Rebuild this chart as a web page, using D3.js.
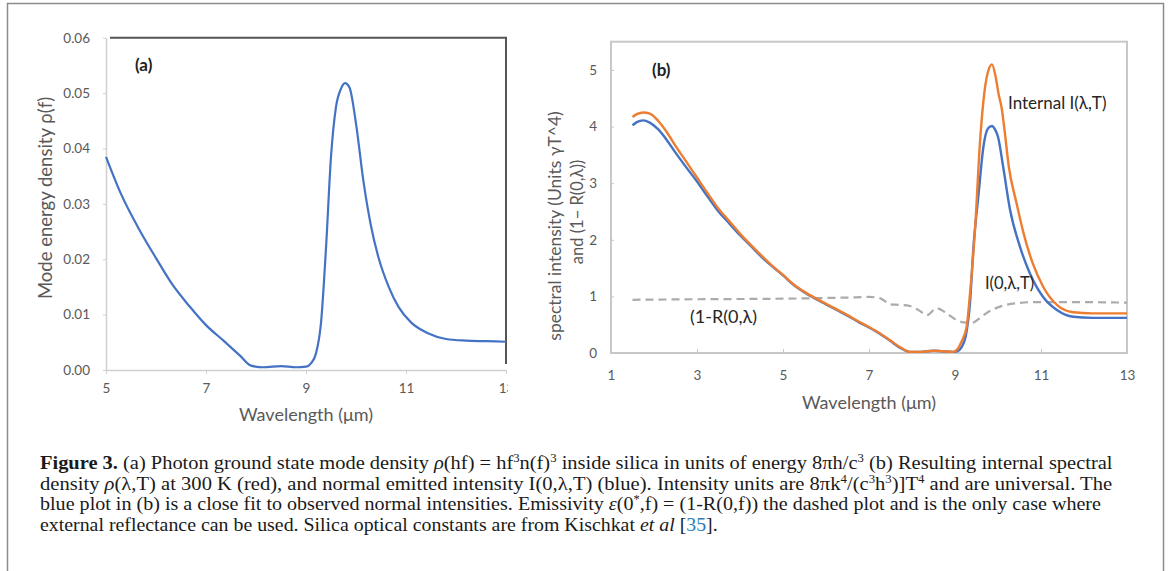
<!DOCTYPE html>
<html lang="en">
<head>
<meta charset="UTF-8">
<title>Figure 3</title>
<script src="https://d3js.org/d3.v7.min.js"></script>
<style>
  body { margin: 0; background: #fff; }
  svg text { font-family: Lato, "Open Sans", sans-serif; }
</style>
</head>
<body>
<div id="chart"></div>
<script>
// ---- panel (a): mode energy density vs wavelength
const aWavelength = [5.0, 5.3, 5.65, 6.0, 6.33, 6.67, 7.0, 7.35, 7.68, 7.9, 8.15, 8.5, 8.8, 9.0, 9.1, 9.2, 9.3, 9.4, 9.5, 9.6, 9.7, 9.78, 9.87, 10.0, 10.15, 10.3, 10.45, 10.65, 10.85, 11.1, 11.45, 11.8, 12.2, 12.6, 13.0];
const aDensity = [0.0385, 0.0318, 0.0256, 0.0202, 0.0154, 0.0115, 0.0081, 0.0053, 0.0026, 0.0008, 0.0005, 0.0007, 0.0005, 0.0006, 0.0012, 0.003, 0.0085, 0.022, 0.0385, 0.0475, 0.0508, 0.0518, 0.051, 0.0445, 0.034, 0.026, 0.0203, 0.0151, 0.0114, 0.0086, 0.0066, 0.0056, 0.0053, 0.0052, 0.0051];
const aXTicks = [5, 7, 9, 11, 13];
const aYTicks = [0, 0.01, 0.02, 0.03, 0.04, 0.05, 0.06];

// ---- panel (b): spectral intensities and 1-R
const internalWl = [1.5, 1.6, 1.75, 1.9, 2.1, 2.3, 2.5, 2.75, 3.0, 3.25, 3.5, 3.75, 4.0, 4.25, 4.5, 4.75, 5.0, 5.25, 5.5, 5.75, 6.0, 6.25, 6.5, 6.75, 7.0, 7.25, 7.5, 7.75, 7.95, 8.2, 8.5, 8.7, 8.95, 9.05, 9.15, 9.27, 9.35, 9.47, 9.58, 9.7, 9.78, 9.86, 9.94, 10.02, 10.08, 10.15, 10.25, 10.43, 10.6, 10.8, 11.05, 11.37, 11.75, 12.2, 12.6, 13.0];
const internalI = [4.17, 4.22, 4.25, 4.23, 4.1, 3.9, 3.66, 3.38, 3.1, 2.82, 2.55, 2.33, 2.11, 1.91, 1.72, 1.54, 1.38, 1.21, 1.08, 0.97, 0.87, 0.77, 0.67, 0.56, 0.46, 0.35, 0.22, 0.09, 0.02, 0.02, 0.04, 0.03, 0.02, 0.06, 0.2, 0.46, 1.06, 2.23, 3.71, 4.7, 5.0, 5.1, 4.9, 4.55, 4.35, 3.95, 3.3, 2.65, 2.1, 1.6, 1.17, 0.85, 0.72, 0.7, 0.7, 0.7];
const normalWl = [1.5, 1.6, 1.75, 1.9, 2.1, 2.3, 2.5, 2.75, 3.0, 3.25, 3.5, 3.75, 4.0, 4.25, 4.5, 4.75, 5.0, 5.25, 5.5, 5.75, 6.0, 6.25, 6.5, 6.75, 7.0, 7.25, 7.5, 7.75, 7.95, 8.2, 8.5, 8.7, 8.95, 9.05, 9.15, 9.25, 9.35, 9.43, 9.55, 9.66, 9.77, 9.86, 9.93, 10.0, 10.12, 10.28, 10.51, 10.74, 11.05, 11.37, 11.75, 12.2, 12.6, 13.0];
const normalI = [4.02, 4.08, 4.11, 4.07, 3.95, 3.76, 3.54, 3.28, 3.03, 2.76, 2.5, 2.29, 2.08, 1.89, 1.7, 1.53, 1.37, 1.2, 1.07, 0.96, 0.86, 0.76, 0.66, 0.55, 0.45, 0.34, 0.21, 0.08, 0.02, 0.02, 0.04, 0.03, 0.02, 0.03, 0.1, 0.3, 0.9, 1.88, 2.82, 3.64, 3.97, 4.01, 3.95, 3.82, 3.29, 2.53, 1.88, 1.41, 0.99, 0.76, 0.64, 0.62, 0.62, 0.62];
const emissWl = [1.5, 3.0, 5.0, 6.5, 7.0, 7.25, 7.5, 7.7, 7.95, 8.15, 8.35, 8.57, 8.75, 8.9, 9.04, 9.2, 9.39, 9.55, 9.74, 10.05, 10.43, 10.9, 11.5, 13.0];
const emiss = [0.94, 0.95, 0.96, 0.98, 0.99, 0.97, 0.86, 0.85, 0.83, 0.76, 0.67, 0.79, 0.73, 0.65, 0.58, 0.54, 0.53, 0.6, 0.71, 0.82, 0.88, 0.9, 0.9, 0.89];
const bXTicks = [1, 3, 5, 7, 9, 11, 13];
const bYTicks = [0, 1, 2, 3, 4, 5];

// ---- caption, one array per printed line: [text, style]
const caption = [
  [["Figure 3.", "b"], [" (a) Photon ground state mode density ", ""], ["ρ", "i"], ["(hf) = hf", ""], ["3", "sup"], ["n(f)", ""], ["3", "sup"], [" inside silica in units of energy 8πh/c", ""], ["3", "sup"], [" (b) Resulting internal spectral", ""]],
  [["density ", ""], ["ρ", "i"], ["(λ,T) at 300 K (red), and normal emitted intensity I(0,λ,T) (blue). Intensity units are 8πk", ""], ["4", "sup"], ["/(c", ""], ["3", "sup"], ["h", ""], ["3", "sup"], [")]T", ""], ["4", "sup"], [" and are universal. The", ""]],
  [["blue plot in (b) is a close fit to observed normal intensities. Emissivity ", ""], ["ε", "i"], ["(0", ""], ["*", "sup"], [",f) = (1-R(0,f)) the dashed plot and is the only case where", ""]],
  [["external reflectance can be used. Silica optical constants are from Kischkat ", ""], ["et al", "i"], [" [", ""], ["35", "link"], ["].", ""]]
];
const captionRight = [1113, 1113, 1102, 718];

const W = 1170, H = 571;
const grey = "#595959";

const svg = d3.select("#chart").append("svg")
  .attr("width", W).attr("height", H);

// outer frame of the figure
svg.append("path")
  .attr("d", "M7.5,600 V3.5 H1163.5 V600")
  .attr("fill", "none").attr("stroke", "#8c8c8c").attr("stroke-width", 1.5);

// ================= panel (a)
const ga = svg.append("g");
ga.append("clipPath").attr("id", "clipA").append("rect")
  .attr("x", 0).attr("y", 0).attr("width", 508).attr("height", H);
const pa = ga.append("g").attr("clip-path", "url(#clipA)");

const xa = d3.scaleLinear().domain([5, 13]).range([106, 506]);
const ya = d3.scaleLinear().domain([0, 0.06]).range([370, 37.7]);

const axA = pa.append("g").attr("transform", "translate(0,370)")
  .call(d3.axisBottom(xa).tickValues(aXTicks).tickSize(4).tickPadding(9).tickSizeOuter(0));
const ayA = pa.append("g").attr("transform", "translate(106,0)")
  .call(d3.axisLeft(ya).tickValues(aYTicks).tickFormat(d3.format(".2f")).tickSize(3).tickPadding(13).tickSizeOuter(0));
[axA, ayA].forEach(g => {
  g.select(".domain").attr("stroke", "#d0d0d0").attr("stroke-width", 1.5);
  g.selectAll(".tick line").attr("stroke", "#d0d0d0");
  g.selectAll(".tick text").attr("fill", grey).style("font-size", "13.5px");
});

// dark top and right border of the plot area
pa.append("path")
  .attr("d", `M${xa(5) + 4},${ya(0.06)} H${xa(13)} V364`)
  .attr("fill", "none").attr("stroke", "#555").attr("stroke-width", 2);

pa.append("path")
  .datum(aWavelength.map((w, i) => [w, aDensity[i]]))
  .attr("fill", "none").attr("stroke", "#4472c4").attr("stroke-width", 2.2)
  .attr("d", d3.line().x(d => xa(d[0])).y(d => ya(d[1])).curve(d3.curveMonotoneX));

pa.append("text").attr("x", 135).attr("y", 71)
  .style("font-size", "17px").style("font-weight", "bold").attr("fill", "#222").text("(a)");

pa.append("text").attr("x", 306).attr("y", 421).attr("text-anchor", "middle")
  .style("font-size", "18px").attr("fill", grey).text("Wavelength (μm)");
pa.append("text").attr("transform", "translate(46,198) rotate(-90)").attr("dy", "0.35em")
  .attr("text-anchor", "middle").style("font-size", "18.5px").attr("fill", grey)
  .text("Mode energy density ρ(f)");

// ================= panel (b)
const pb = svg.append("g");
const xb = d3.scaleLinear().domain([1, 13]).range([611, 1127]);
const yb = d3.scaleLinear().domain([0, 5.5]).range([353, 41.7]);

pb.append("rect")
  .attr("x", xb(1)).attr("y", yb(5.5)).attr("width", xb(13) - xb(1)).attr("height", yb(0) - yb(5.5))
  .attr("fill", "none").attr("stroke", "#c8c8c8").attr("stroke-width", 2);

const axB = pb.append("g").attr("transform", "translate(0,353)")
  .call(d3.axisBottom(xb).tickValues(bXTicks).tickSizeInner(-4).tickSizeOuter(0).tickPadding(17));
const ayB = pb.append("g").attr("transform", "translate(611,0)")
  .call(d3.axisLeft(yb).tickValues(bYTicks).tickFormat(d3.format("d")).tickSizeInner(-3).tickSizeOuter(0).tickPadding(14));
[axB, ayB].forEach(g => {
  g.select(".domain").remove();
  g.selectAll(".tick line").attr("stroke", "#c8c8c8");
  g.selectAll(".tick text").attr("fill", grey).style("font-size", "13.5px");
});

const lineB = d3.line().x(d => xb(d[0])).y(d => yb(d[1])).curve(d3.curveMonotoneX);

pb.append("path")
  .datum(emissWl.map((w, i) => [w, emiss[i]]))
  .attr("fill", "none").attr("stroke", "#ababab").attr("stroke-width", 2.2)
  .attr("stroke-dasharray", "8,5").attr("d", lineB);
pb.append("path")
  .datum(normalWl.map((w, i) => [w, normalI[i]]))
  .attr("fill", "none").attr("stroke", "#4472c4").attr("stroke-width", 2.4).attr("d", lineB);
pb.append("path")
  .datum(internalWl.map((w, i) => [w, internalI[i]]))
  .attr("fill", "none").attr("stroke", "#ed7d31").attr("stroke-width", 2.4).attr("d", lineB);

pb.append("text").attr("x", 652).attr("y", 76)
  .style("font-size", "17px").style("font-weight", "bold").attr("fill", "#222").text("(b)");
pb.append("text").attr("x", 1008).attr("y", 109)
  .style("font-size", "17px").attr("fill", "#262626").text("Internal I(λ,T)");
pb.append("text").attr("x", 985).attr("y", 289)
  .style("font-size", "16.5px").attr("fill", "#262626").text("I(0,λ,T)");
pb.append("text").attr("x", 690).attr("y", 323)
  .style("font-size", "18px").attr("fill", "#262626").text("(1-R(0,λ)");

pb.append("text").attr("x", 869).attr("y", 409).attr("text-anchor", "middle")
  .style("font-size", "18px").attr("fill", grey).text("Wavelength (μm)");
pb.append("text").attr("transform", "translate(555,226) rotate(-90)").attr("dy", "0.35em")
  .attr("text-anchor", "middle").style("font-size", "17.5px").attr("fill", grey)
  .text("spectral intensity (Units γT^4)");
pb.append("text").attr("transform", "translate(577,212) rotate(-90)").attr("dy", "0.35em")
  .attr("text-anchor", "middle").style("font-size", "16.5px").attr("fill", grey)
  .text("and (1− R(0,λ))");

// ================= caption
const capLeft = 40, capTop = 469, capStep = 20.5;
caption.forEach((segs, li) => {
  const g = svg.append("g");
  const t = g.append("text").attr("x", 0).attr("y", 0)
    .style("font-family", '"Liberation Serif", "DejaVu Serif", serif')
    .style("font-size", "18.5px").attr("fill", "#1a1a1a");
  let raised = false;
  segs.forEach(([txt, st]) => {
    const s = t.append("tspan").text(txt);
    if (st === "sup") {
      s.attr("dy", raised ? 0 : -7).style("font-size", "11.5px");
      raised = true;
    } else {
      if (raised) { s.attr("dy", 7); raised = false; }
      if (st === "b") s.style("font-weight", "bold");
      if (st === "i") s.style("font-style", "italic");
      if (st === "link") s.attr("fill", "#2a7ab8");
    }
  });
  const w = t.node().getComputedTextLength();
  const sx = (captionRight[li] - capLeft) / w;
  g.attr("transform", `translate(${capLeft},${capTop + li * capStep}) scale(${sx},1)`);
});
</script>
</body>
</html>
